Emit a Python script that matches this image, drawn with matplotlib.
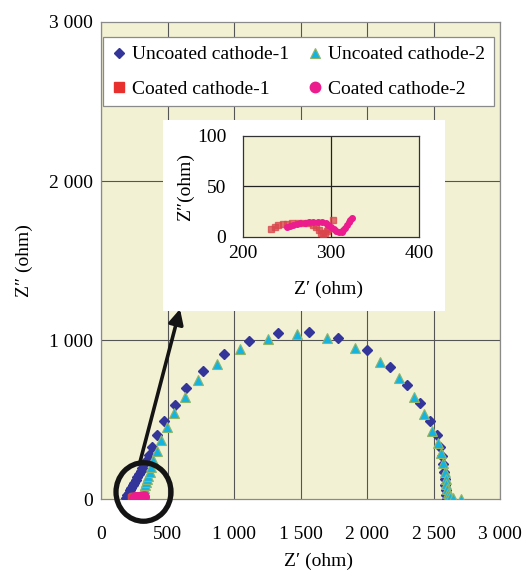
import matplotlib
matplotlib.use("Agg")
import matplotlib.pyplot as plt
from matplotlib.lines import Line2D
from matplotlib.patches import Rectangle, Ellipse

plt.rcParams['font.family'] = ['Liberation Serif', 'DejaVu Serif']

# ---------------- data ----------------
unc1_x = [190, 198, 207, 216, 226, 237, 248, 260, 272, 285, 298, 312, 327, 343, 360, 383, 420, 470,
          554, 639, 765, 922, 1113, 1333, 1566, 1784, 1997, 2173, 2303, 2398, 2474, 2524, 2549,
          2562, 2572, 2580, 2586, 2590, 2594, 2597, 2600]
unc1_y = [10, 25, 40, 56, 72, 88, 105, 122, 140, 158, 178, 198, 222, 248, 276, 330, 405, 495,
          593, 698, 809, 914, 996, 1044, 1054, 1012, 939, 834, 719, 604, 490, 404, 331,
          272, 220, 172, 130, 92, 58, 28, 2]

unc2_x = [300, 303, 307, 312, 318, 324, 331, 338, 346, 355, 365, 378, 393, 418, 449, 493, 548,
          632, 727, 870, 1045, 1253, 1471, 1697, 1910, 2098, 2243, 2353, 2429, 2491, 2536,
          2556, 2574, 2586, 2592, 2597, 2602, 2607, 2613, 2622, 2649, 2705]
unc2_y = [5, 16, 28, 42, 56, 72, 88, 106, 126, 148, 172, 205, 247, 304, 373, 455, 541,
          641, 750, 849, 943, 1006, 1038, 1016, 953, 866, 761, 645, 536, 430, 352,
          289, 226, 170, 128, 95, 66, 42, 24, 12, 10, 2]

coat1_x = [232, 236, 240, 245, 250, 256, 262, 268, 274, 279, 283, 286, 289, 291, 293, 295, 297, 302]
coat1_y = [8, 10, 11.5, 12.5, 13, 13.5, 14, 14, 13.5, 12, 10, 7, 4, 3, 4, 6, 8, 17]

coat2_x = [250, 253, 257, 261, 265, 270, 275, 280, 285, 290, 294, 297, 300, 303, 306, 309,
           312, 314, 316, 318, 320, 322, 324]
coat2_y = [9.5, 11, 12, 12.8, 13.5, 14, 14.5, 15, 15.2, 15, 13.5, 12, 10, 7.5, 6, 5,
           5, 6.5, 9, 12, 15, 17, 19]

main_ticks = [0, 500, 1000, 1500, 2000, 2500, 3000]
main_ticklabels = ['0', '500', '1 000', '1 500', '2 000', '2 500', '3 000']
main_yticklabels = ['0', '', '1 000', '', '2 000', '', '3 000']
inset_xticks = [200, 300, 400]
inset_yticks = [0, 50, 100]

series_names = ['Uncoated cathode-1', 'Uncoated cathode-2', 'Coated cathode-1', 'Coated cathode-2']

# ---------------- style ----------------
W, H = 526, 576
BG = '#f3f1d3'
C_UNC1 = '#33359a'
C_UNC2 = '#14b4e2'
C_UNC2_EDGE = '#8fb46a'
C_COAT1 = '#d9464c'
C_COAT2 = '#ec1c8e'
FS = 14

fig = plt.figure(figsize=(W / 100, H / 100), dpi=100)
fig.patch.set_facecolor('white')

def fx(px):
    return px / W

def fy(py):
    return 1 - py / H

# main axes
L, R, T, B = 101, 500, 22, 499.3
ax = fig.add_axes([fx(L), fy(B), (R - L) / W, (B - T) / H])
ax.set_facecolor(BG)
ax.set_xlim(0, 3000)
ax.set_ylim(0, 3000)
ax.set_xticks(main_ticks)
ax.set_xticklabels(main_ticklabels)
ax.set_yticks(main_ticks)
ax.set_yticklabels(main_yticklabels)
ax.tick_params(axis='both', which='both', length=0, labelsize=FS)
ax.tick_params(axis='x', pad=19)
ax.tick_params(axis='y', pad=6)
ax.xaxis.grid(True, color='#555555', lw=0.8)
ax.set_axisbelow(True)
for yv in [1000, 2000]:
    ax.axhline(yv, color='#555555', lw=0.8, zorder=0.5)
for s in ax.spines.values():
    s.set_color('#8a8a8a')
    s.set_linewidth(0.9)

ax.plot(unc1_x, unc1_y, ls='none', marker='D', ms=5.2, color=C_UNC1, mec=C_UNC1, zorder=3)
ax.plot(unc2_x, unc2_y, ls='none', marker='^', ms=7.2, color=C_UNC2, mec=C_UNC2_EDGE, mew=0.8, zorder=3)
ax.plot(coat1_x, coat1_y, ls='none', marker='s', ms=5.5, color=C_COAT1, mec=C_COAT1, alpha=0.8, zorder=4)
ax.plot(coat2_x, coat2_y, ls='none', marker='o', ms=6.5, color=C_COAT2, mec=C_COAT2, zorder=4)

ax.set_xlabel('Z\u2032 (ohm)', fontsize=FS)
ax.xaxis.set_label_coords((318 - L) / (R - L), (B - 553) / (B - T))
ax.set_ylabel('Z\u2033 (ohm)', fontsize=FS)
ax.yaxis.set_label_coords((33 - L) / (R - L), (B - 261) / (B - T))

h_unc1 = Line2D([], [], ls='none', marker='D', ms=5.5, color=C_UNC1)
h_unc2 = Line2D([], [], ls='none', marker='^', ms=7, color=C_UNC2, mec=C_UNC2_EDGE, mew=0.8)
h_coat1 = Line2D([], [], ls='none', marker='s', ms=7, color='#e8312f')
h_coat2 = Line2D([], [], ls='none', marker='o', ms=7.5, color=C_COAT2)
# column-major order so rows read: Uncoated-1, Uncoated-2 / Coated-1, Coated-2
leg = ax.legend([h_unc1, h_coat1, h_unc2, h_coat2],
                [series_names[0], series_names[2], series_names[1], series_names[3]],
                ncol=2, loc='upper left',
                bbox_to_anchor=(fx(103), fy(37)), bbox_transform=fig.transFigure,
                borderaxespad=0, fancybox=False, framealpha=1, edgecolor='#8a8a8a',
                fontsize=FS, handlelength=0.7, handletextpad=0.35, columnspacing=0.95,
                labelspacing=0.85, borderpad=0.45)
leg.get_frame().set_linewidth(0.9)

# arrow and circle
ax.annotate('', xy=(180, H - 309), xycoords='figure pixels',
            xytext=(140, H - 462), textcoords='figure pixels',
            arrowprops=dict(arrowstyle='-|>', lw=2.6, color='#141414',
                            mutation_scale=22, shrinkA=0, shrinkB=0),
            annotation_clip=False, zorder=6)
circ = Ellipse((fx(143.5), fy(492)), width=55 / W, height=58.5 / H, transform=fig.transFigure,
               fill=False, lw=3.8, edgecolor='#141414', zorder=5)
fig.add_artist(circ)

# white box behind inset
box = Rectangle((fx(163), fy(311)), (445 - 163) / W, (311 - 120) / H,
                transform=fig.transFigure, facecolor='white', edgecolor='none', zorder=1)
fig.add_artist(box)

# inset
iL, iR, iT, iB = 243, 419, 136, 237
axi = fig.add_axes([fx(iL), fy(iB), (iR - iL) / W, (iB - iT) / H], zorder=2)
axi.set_facecolor(BG)
axi.set_xlim(200, 400)
axi.set_ylim(0, 100)
axi.set_xticks(inset_xticks)
axi.set_yticks(inset_yticks)
axi.tick_params(axis='both', length=0, labelsize=FS)
axi.tick_params(axis='x', pad=6)
axi.tick_params(axis='y', pad=12)
axi.axvline(300, color='#222222', lw=0.9, zorder=0.5)
axi.axhline(50, color='#222222', lw=0.9, zorder=0.5)
for s in axi.spines.values():
    s.set_color('#333333')
    s.set_linewidth(0.9)
axi.plot(coat1_x, coat1_y, ls='none', marker='s', ms=3.8, color=C_COAT1, mec=C_COAT1, alpha=0.75, zorder=3)
axi.plot(coat2_x, coat2_y, ls='none', marker='o', ms=4.0, color=C_COAT2, mec=C_COAT2, zorder=4)
axi.set_xlabel('Z\u2032 (ohm)', fontsize=FS)
axi.xaxis.set_label_coords((329 - iL) / (iR - iL), (iB - 281) / (iB - iT))
axi.set_ylabel('Z\u2033(ohm)', fontsize=FS)
axi.yaxis.set_label_coords((194 - iL) / (iR - iL), (iB - 187.5) / (iB - iT))

fig.savefig('out.png', dpi=100, facecolor='white')
